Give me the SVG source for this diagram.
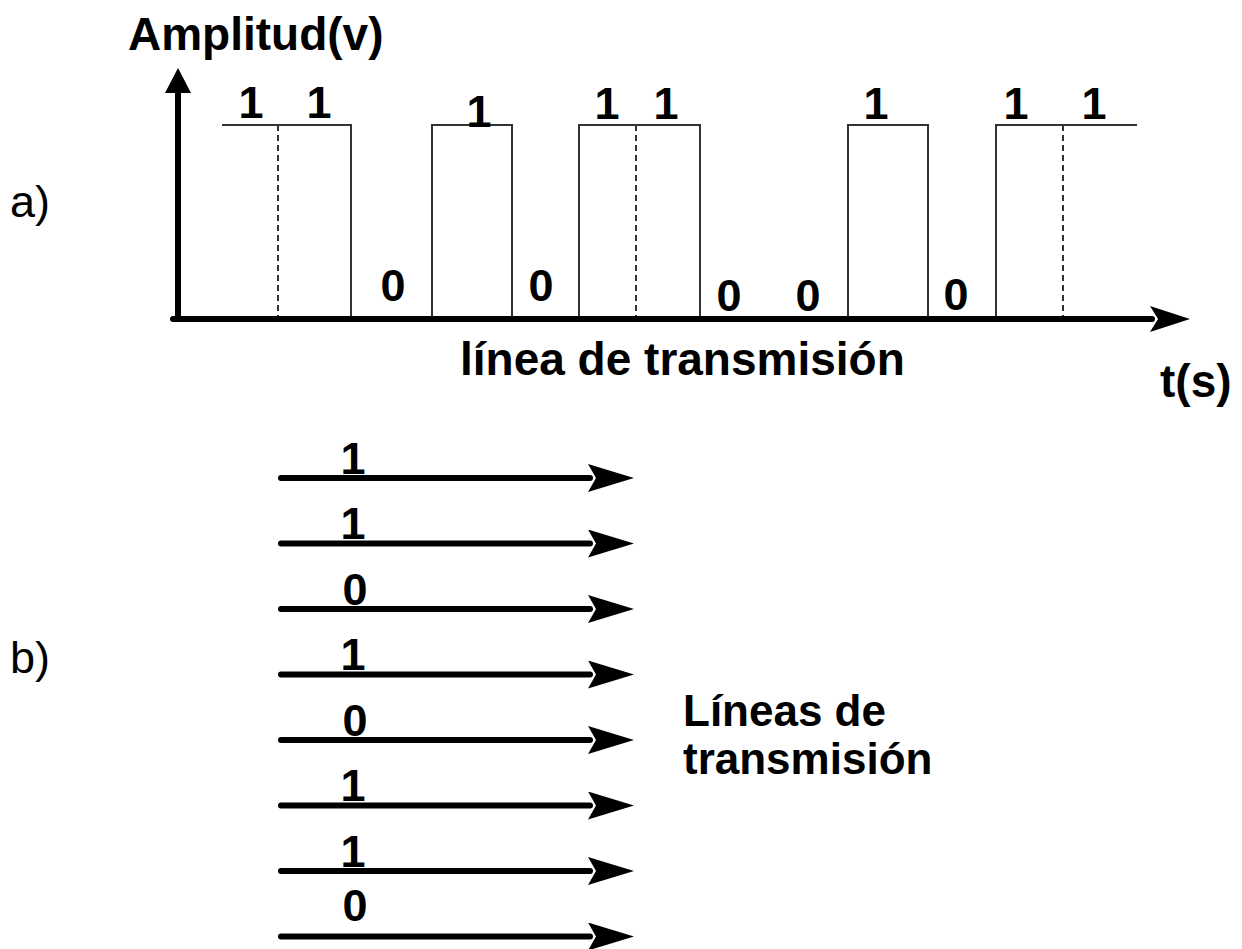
<svg xmlns="http://www.w3.org/2000/svg" width="1242" height="949" viewBox="0 0 1242 949">
<style>
  .t { font-family: "Liberation Sans", Arial, sans-serif; font-weight: bold; fill: #000; }
  .big { font-size: 46px; }
  .dig { font-size: 45px; text-anchor: middle; }
  .lab { font-family: "Liberation Sans", Arial, sans-serif; font-size: 45px; fill: #000; }
  .axis { stroke: #000; stroke-width: 6; fill: none; stroke-linecap: round; }
  .sig { stroke: #333; stroke-width: 2; fill: none; }
  .dash { stroke: #333; stroke-width: 2; stroke-dasharray: 6 4; fill: none; }
  .line { stroke: #000; stroke-width: 6; fill: none; stroke-linecap: round; }
</style>
<defs>
  <marker id="ah" viewBox="0 0 40 26" refX="2" refY="13" markerWidth="40" markerHeight="26" markerUnits="userSpaceOnUse" orient="auto">
    <path d="M0,0 L40,13 L0,26 L8,13 Z" fill="#000"/>
  </marker>
  <marker id="ahy" viewBox="0 0 25 26" refX="2" refY="13" markerWidth="25" markerHeight="26" markerUnits="userSpaceOnUse" orient="auto">
    <path d="M0,0 L25,13 L0,26 Z" fill="#000"/>
  </marker>
  <marker id="ahb" viewBox="0 0 46 28" refX="2" refY="14" markerWidth="46" markerHeight="28" markerUnits="userSpaceOnUse" orient="auto">
    <path d="M0,0 L46,14 L0,28 L8,14 Z" fill="#000"/>
  </marker>
</defs>
<rect width="1242" height="949" fill="#fff"/>

<g id="labels">
  <text class="lab" x="10" y="217">a)</text>
  <text class="lab" x="10" y="673">b)</text>
</g>

<g id="chart-a">
  <text class="t big" x="128" y="50">Amplitud(v)</text>
  <path class="sig" d="M222,125 H351 V318 M432,318 V125 H512 V318 M579,318 V125 H700 V318 M848,318 V125 H928 V318 M996,318 V125 H1137"/>
  <path class="dash" d="M278,125 V318 M636,125 V318 M1063,125 V318"/>
  <g id="bits-a">
    <text class="t dig" x="251" y="118">1</text>
    <text class="t dig" x="319" y="118">1</text>
    <text class="t dig" x="479" y="127">1</text>
    <text class="t dig" x="607" y="119">1</text>
    <text class="t dig" x="666" y="119">1</text>
    <text class="t dig" x="876" y="119">1</text>
    <text class="t dig" x="1016" y="119">1</text>
    <text class="t dig" x="1094" y="119">1</text>
    <text class="t dig" x="393" y="301">0</text>
    <text class="t dig" x="541" y="301">0</text>
    <text class="t dig" x="729" y="311">0</text>
    <text class="t dig" x="808" y="311">0</text>
    <text class="t dig" x="956" y="310">0</text>
  </g>
  <text class="t big" x="460" y="375">línea de transmisión</text>
  <text class="t big" x="1160" y="397">t(s)</text>
</g>

<g id="axes">
  <path class="axis" d="M178,318 V91" marker-end="url(#ahy)"/>
  <path class="axis" d="M173,319 H1152" marker-end="url(#ah)"/>
</g>

<g id="connectors">
  <path class="line" d="M281,478 H590" marker-end="url(#ahb)"/>
  <path class="line" d="M281,543.5 H590" marker-end="url(#ahb)"/>
  <path class="line" d="M281,609 H590" marker-end="url(#ahb)"/>
  <path class="line" d="M281,674.5 H590" marker-end="url(#ahb)"/>
  <path class="line" d="M281,740 H590" marker-end="url(#ahb)"/>
  <path class="line" d="M281,805.5 H590" marker-end="url(#ahb)"/>
  <path class="line" d="M281,871 H590" marker-end="url(#ahb)"/>
  <path class="line" d="M281,936.5 H590" marker-end="url(#ahb)"/>
</g>

<g id="bits-b">
  <text class="t dig" x="353" y="474">1</text>
  <text class="t dig" x="353" y="539">1</text>
  <text class="t dig" x="355" y="605">0</text>
  <text class="t dig" x="353" y="670">1</text>
  <text class="t dig" x="355" y="736">0</text>
  <text class="t dig" x="353" y="801">1</text>
  <text class="t dig" x="353" y="867">1</text>
  <text class="t dig" x="355" y="921">0</text>
</g>

<g id="label-b">
  <text class="t" font-size="44" x="683" y="726">Líneas de</text>
  <text class="t" font-size="44" x="683" y="774">transmisión</text>
</g>
</svg>
